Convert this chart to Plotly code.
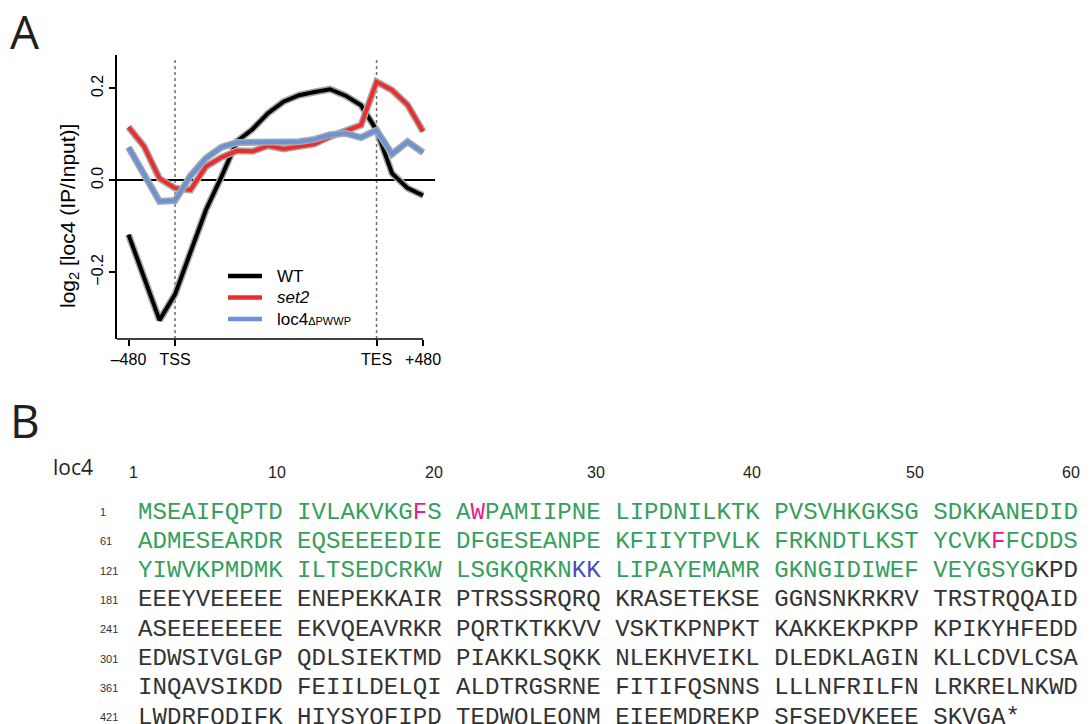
import plotly.graph_objects as go

# ---------------- data (panel A) ----------------
BINS = [0, 1, 2, 3, 4, 5, 6, 7, 8, 9, 10, 11, 12, 13, 14, 15, 16, 17, 18, 19]
WT = [-0.118, -0.213, -0.304, -0.248, -0.156, -0.064, 0.008, 0.085, 0.111, 0.146,
      0.171, 0.185, 0.192, 0.198, 0.184, 0.163, 0.109, 0.015, -0.017, -0.033]
SET2 = [0.116, 0.074, 0.004, -0.017, -0.021, 0.030, 0.050, 0.064, 0.063, 0.075,
        0.068, 0.073, 0.079, 0.095, 0.107, 0.120, 0.214, 0.196, 0.164, 0.106]
LOC4 = [0.072, 0.013, -0.046, -0.044, 0.010, 0.048, 0.072, 0.082, 0.083, 0.083,
        0.085, 0.084, 0.089, 0.099, 0.102, 0.093, 0.109, 0.057, 0.084, 0.060]
SERIES_NAMES = ["WT", "<i>set2</i>",
                'loc4<span style="font-size:11px">ΔPWWP</span>']
X_TICKVALS = [0, 3, 16, 19]
X_TICKTEXT = ["–480", "TSS", "TES", "+480"]
Y_TICKVALS = [-0.2, 0.0, 0.2]
BOUNDARY_BINS = [3, 16]

# ---------------- data (panel B) ----------------
SEQ_ROWS = [
    "MSEAIFQPTD IVLAKVKGFS AWPAMIIPNE LIPDNILKTK PVSVHKGKSG SDKKANEDID",
    "ADMESEARDR EQSEEEEDIE DFGESEANPE KFIIYTPVLK FRKNDTLKST YCVKFFCDDS",
    "YIWVKPMDMK ILTSEDCRKW LSGKQRKNKK LIPAYEMAMR GKNGIDIWEF VEYGSYGKPD",
    "EEEYVEEEEE ENEPEKKAIR PTRSSSRQRQ KRASETEKSE GGNSNKRKRV TRSTRQQAID",
    "ASEEEEEEEE EKVQEAVRKR PQRTKTKKVV VSKTKPNPKT KAKKEKPKPP KPIKYHFEDD",
    "EDWSIVGLGP QDLSIEKTMD PIAKKLSQKK NLEKHVEIKL DLEDKLAGIN KLLCDVLCSA",
    "INQAVSIKDD FEIILDELQI ALDTRGSRNE FITIFQSNNS LLLNFRILFN LRKRELNKWD",
    "LWDRFQDIFK HIYSYQFIPD TEDWQLEQNM EIEEMDREKP SFSEDVKEEE SKVGA*",
]
ROW_STARTS = ["1", "61", "121", "181", "241", "301", "361", "421"]
COLUMN_LABELS = ["1", "10", "20", "30", "40", "50", "60"]
DOMAIN_END = 177          # residues 1..177 shown in green
MAGENTA_RES = [19, 22, 115]
BLUE_RES = [149, 150]

# ---------------- styling / layout ----------------
W, H = 1091, 724
L, R, T, B = 117, 656, 55, 385
PW, PH = W - L - R, H - T - B
XRANGE = [-0.742, 19.77]
YRANGE = [-0.345, 0.2724]
COLORS = ["#000000", "#ec2d2d", "#6a92d4"]
BAND = "#a8a8a8"
GREEN, MAGENTA, BLUE, DARK = "#35a05c", "#ea1a8a", "#4c4cb4", "#333333"
COL_X = [133, 277, 434, 596, 752, 915, 1071]
LEG_Y = [276, 297.5, 319]


def px(xpix):
    return (xpix - L) / PW


def py(ypix):
    return (H - B - ypix) / PH


fig = go.Figure()
for vals, name, col in zip([WT, SET2, LOC4], SERIES_NAMES, COLORS):
    fig.add_trace(go.Scatter(x=BINS, y=vals, mode="lines", showlegend=False,
                             hoverinfo="skip", line=dict(color=BAND, width=7)))
    fig.add_trace(go.Scatter(x=BINS, y=vals, mode="lines", name=name, showlegend=False,
                             line=dict(color=col, width=4)))

shapes = []
for b in BOUNDARY_BINS:
    shapes.append(dict(type="line", xref="x", yref="paper", x0=b, x1=b, y0=0, y1=0.99,
                       line=dict(color="#6e6e6e", width=1.5, dash="dot"), layer="below"))
shapes.append(dict(type="line", xref="x", yref="paper", x0=XRANGE[0], x1=X_TICKVALS[-1],
                   y0=0, y1=0, line=dict(color="black", width=1.5)))

ann = []
# legend (drawn manually for exact spacing)
for name, col, ly in zip(SERIES_NAMES, COLORS, LEG_Y):
    shapes.append(dict(type="line", xref="paper", yref="paper", x0=px(228), x1=px(262),
                       y0=py(ly), y1=py(ly), line=dict(color=col, width=4.5)))
    ann.append(dict(text=name, x=px(275), y=py(ly), xref="paper", yref="paper",
                    xanchor="left", yanchor="middle", showarrow=False,
                    font=dict(size=17, color="black")))

ann.append(dict(text="log<sub>2</sub> [loc4 (IP/Input)]", x=px(69), y=py(216),
                xref="paper", yref="paper", xanchor="center", yanchor="middle",
                textangle=-90, showarrow=False, font=dict(size=21, color="black")))
ann.append(dict(text="A", x=px(8), y=py(31), xref="paper", yref="paper", xanchor="left",
                yanchor="middle", showarrow=False,
                font=dict(size=46, family="Open Sans, Arial, sans-serif", color="#231f20")))
ann.append(dict(text="B", x=px(8), y=py(420), xref="paper", yref="paper", xanchor="left",
                yanchor="middle", showarrow=False,
                font=dict(size=46, family="Open Sans, Arial, sans-serif", color="#231f20")))
ann.append(dict(text="loc4", x=px(51), y=py(467), xref="paper", yref="paper", xanchor="left",
                yanchor="middle", showarrow=False,
                font=dict(size=21, family="Open Sans, Arial, sans-serif", color="#231f20")))
for lab, cx in zip(COLUMN_LABELS, COL_X):
    ann.append(dict(text=lab, x=px(cx), y=py(472), xref="paper", yref="paper",
                    xanchor="center", yanchor="middle", showarrow=False,
                    font=dict(size=16, color="#222222")))


def res_color(r):
    if r in MAGENTA_RES:
        return MAGENTA
    if r in BLUE_RES:
        return BLUE
    if r <= DOMAIN_END:
        return GREEN
    return DARK


def row_html(row, start):
    parts = []
    cur, buf = None, ""
    r = start
    for i, block in enumerate(row.split(" ")):
        if i > 0:
            buf += " "
        for ch in block:
            c = res_color(r) if ch != "*" else DARK
            if c != cur:
                if buf:
                    parts.append('<span style="color:%s">%s</span>' % (cur, buf))
                buf, cur = "", c
            buf += ch
            r += 1
    if buf:
        parts.append('<span style="color:%s">%s</span>' % (cur, buf))
    return "".join(parts)


for i, (row, st) in enumerate(zip(SEQ_ROWS, ROW_STARTS)):
    yc = 512 + 29.3 * i
    ann.append(dict(text=st, x=px(98), y=py(yc), xref="paper", yref="paper", xanchor="left",
                    yanchor="middle", showarrow=False, font=dict(size=11, color=DARK)))
    ann.append(dict(text=row_html(row, int(st)), x=px(135.5), y=py(yc), xref="paper",
                    yref="paper", xanchor="left", yanchor="middle", showarrow=False,
                    font=dict(size=24.1, family="Liberation Mono, Courier New, monospace",
                              color=DARK)))

fig.update_layout(
    width=W, height=H, autosize=False,
    margin=dict(l=L, r=R, t=T, b=B),
    paper_bgcolor="white", plot_bgcolor="white",
    font=dict(family="Arial, Liberation Sans, sans-serif", color="black"),
    shapes=shapes, annotations=ann, showlegend=False,
    xaxis=dict(range=XRANGE, showline=False, showgrid=False, zeroline=False,
               ticks="outside", ticklen=6, tickwidth=1.5, tickcolor="black",
               tickvals=X_TICKVALS, ticktext=X_TICKTEXT, tickfont=dict(size=16)),
    yaxis=dict(range=YRANGE, showline=True, linewidth=1.5, linecolor="black",
               showgrid=False, zeroline=True, zerolinecolor="black", zerolinewidth=1.5,
               ticks="outside", ticklen=6, tickwidth=1.5, tickcolor="black",
               tickvals=Y_TICKVALS, tickformat=".1f", tickangle=-90,
               tickfont=dict(size=16)),
)

fig.write_html("out.html")
